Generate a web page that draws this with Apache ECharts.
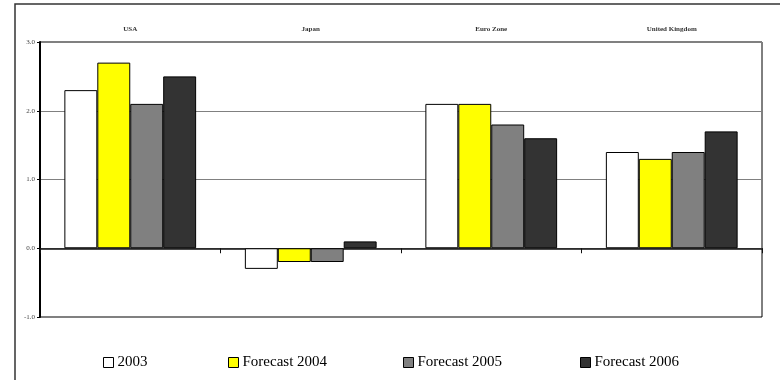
<!DOCTYPE html>
<html>
<head>
<meta charset="utf-8">
<script src="https://cdn.jsdelivr.net/npm/echarts@6/dist/echarts.min.js"></script>
<style>
  html, body { margin: 0; padding: 0; background: #fff; }
  #chart { width: 780px; height: 380px; }
</style>
</head>
<body>
<div id="chart"></div>
<script>
// Real GDP growth by region, outturn and forecasts (%)
const regions = ['USA', 'Japan', 'Euro Zone', 'United Kingdom'];
const seriesNames = ['2003', 'Forecast 2004', 'Forecast 2005', 'Forecast 2006'];
const values2003 = [2.3, -0.3, 2.1, 1.4];
const values2004 = [2.7, -0.2, 2.1, 1.3];
const values2005 = [2.1, -0.2, 1.8, 1.4];
const values2006 = [2.5, 0.1, 1.6, 1.7];
const barColors = ['#ffffff', '#ffff00', '#808080', '#333333'];
const yTicks = { min: -1, max: 3, step: 1 };

const allValues = [values2003, values2004, values2005, values2006];
const legendLeft = [103, 228, 403, 580];
const serif = '"Liberation Serif", "Times New Roman", serif';

const chart = echarts.init(document.getElementById('chart'));

const series = seriesNames.map((name, i) => ({
  name: name,
  type: 'bar',
  xAxisIndex: 0,
  data: allValues[i],
  barCategoryGap: '27%',
  barGap: '0%',
  itemStyle: { color: barColors[i], borderColor: '#000', borderWidth: 1 },
  emphasis: { disabled: true }
}));

const legends = seriesNames.map((name, i) => ({
  data: [name],
  left: legendLeft[i],
  top: 355,
  padding: 0,
  itemWidth: 10,
  itemHeight: 10,
  icon: 'rect',
  itemStyle: { borderColor: '#000', borderWidth: 1 },
  textStyle: { fontFamily: serif, fontSize: 15, color: '#000', padding: [0, 0, 0, -1] },
  selectedMode: false
}));

chart.setOption({
  animation: false,
  backgroundColor: '#fff',
  graphic: [{
    type: 'rect',
    shape: { x: 15, y: 4, width: 800, height: 420 },
    style: { fill: 'none', stroke: '#333', lineWidth: 1.5 },
    z: 100
  }],
  legend: legends,
  grid: {
    left: 40, top: 42, right: 18, bottom: 63,
    show: true, borderColor: '#000', borderWidth: 1, backgroundColor: 'transparent'
  },
  xAxis: [{
    // region names along the top edge
    type: 'category',
    data: regions,
    position: 'top',
    axisLine: { show: false, onZero: false },
    axisTick: { show: false },
    axisLabel: {
      fontFamily: serif, fontSize: 7, fontWeight: 'bold', color: '#333', margin: 9
    }
  }, {
    // zero baseline with category dividers
    type: 'category',
    data: regions,
    position: 'bottom',
    axisLine: { onZero: true, lineStyle: { color: '#111', width: 1.5 } },
    axisTick: { show: true, length: 5, lineStyle: { color: '#111', width: 1 } },
    axisLabel: { show: false }
  }],
  yAxis: {
    type: 'value',
    min: yTicks.min,
    max: yTicks.max,
    interval: yTicks.step,
    axisLine: { show: true, lineStyle: { color: '#000', width: 2 } },
    axisTick: { show: true, length: 3, lineStyle: { color: '#000' } },
    axisLabel: {
      fontFamily: serif, fontSize: 7, color: '#444', margin: 5,
      formatter: v => v.toFixed(1)
    },
    splitLine: { show: true, lineStyle: { color: '#808080', width: 1 } }
  },
  series: series
});
</script>
</body>
</html>
